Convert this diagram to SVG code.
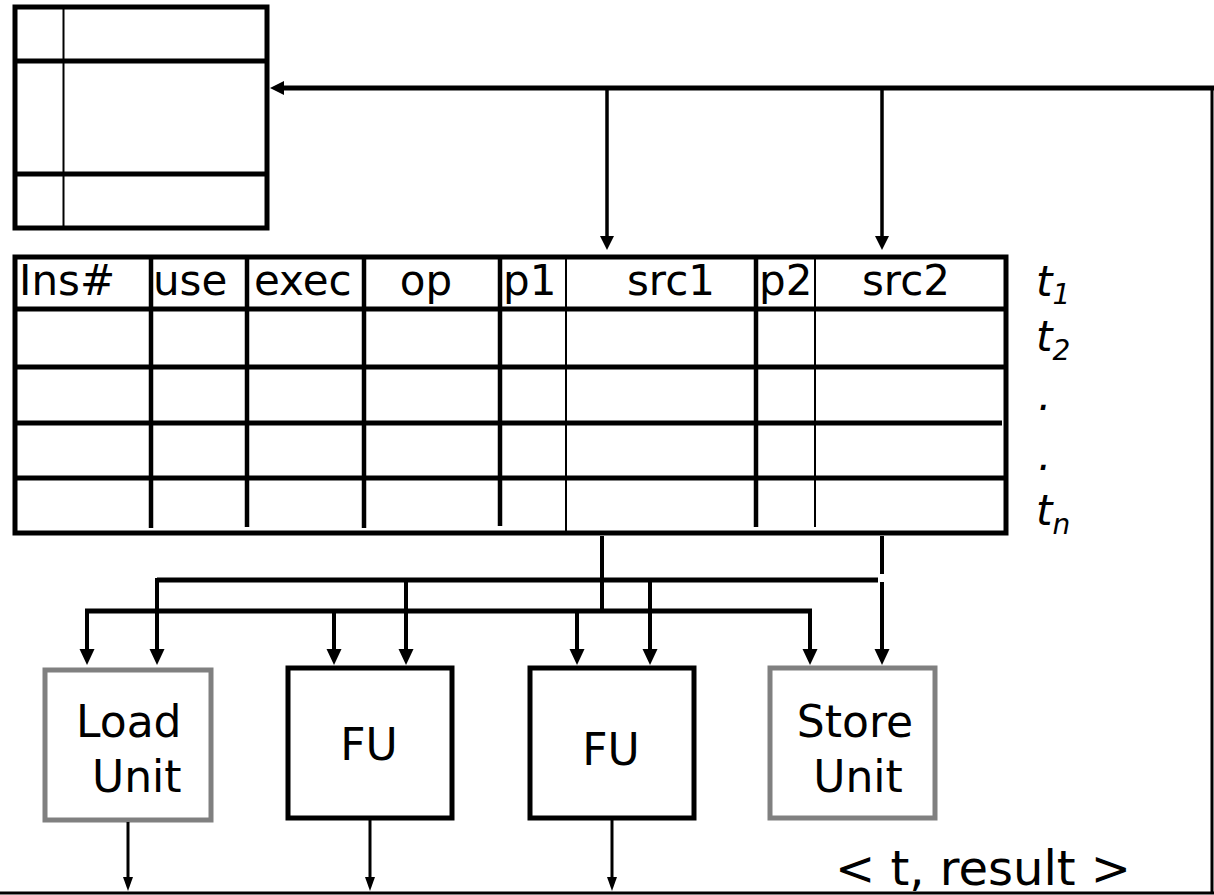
<svg xmlns="http://www.w3.org/2000/svg" width="1214" height="895" viewBox="0 0 1214 895">
<defs>
<style>
.ln{stroke:#000;fill:none}
.t{font-family:"DejaVu Sans","Liberation Sans",sans-serif;fill:#000}
.hd{font-size:42px}
.u{font-size:44px}
.it{font-family:"DejaVu Sans","Liberation Sans",sans-serif;font-style:italic;font-size:42px;fill:#000}
.sub{font-size:28px}
</style>
<marker id="aL" markerUnits="userSpaceOnUse" markerWidth="18" markerHeight="16" refX="2" refY="8" orient="auto">
<path d="M0,0.5 L16,8 L0,15.5 z" fill="#000"/>
</marker>
<marker id="aM" markerUnits="userSpaceOnUse" markerWidth="16" markerHeight="16" refX="2" refY="7" orient="auto">
<path d="M0,0 L14,7 L0,14 z" fill="#000"/>
</marker>
<marker id="aS" markerUnits="userSpaceOnUse" markerWidth="16" markerHeight="12" refX="2" refY="5" orient="auto">
<path d="M0,0 L14,5 L0,10 z" fill="#000"/>
</marker>
</defs>
<rect width="1214" height="895" fill="#fff"/>

<g id="regfile">
<rect x="15" y="7" width="252" height="221" fill="#fff" stroke="#000" stroke-width="5"/>
<line class="ln" x1="63.5" y1="7" x2="63.5" y2="228" stroke-width="2"/>
<line class="ln" x1="17" y1="61" x2="265" y2="61" stroke-width="5"/>
<line class="ln" x1="17" y1="174" x2="265" y2="174" stroke-width="5"/>
</g>

<g id="station">
<rect x="15" y="257" width="991" height="276" fill="#fff" stroke="#000" stroke-width="5"/>
<g class="ln" stroke-width="5">
<line x1="15" y1="309" x2="1004" y2="309"/>
<line x1="15" y1="367" x2="1004" y2="367"/>
<line x1="15" y1="423" x2="1002" y2="423"/>
<line x1="15" y1="478" x2="1004" y2="478"/>
</g>
<g class="ln" stroke-width="4.5">
<line x1="151" y1="257" x2="151" y2="528"/>
<line x1="247" y1="257" x2="247" y2="527"/>
<line x1="364" y1="257" x2="364" y2="528"/>
<line x1="500" y1="257" x2="500" y2="526"/>
<line x1="756" y1="257" x2="756" y2="527"/>
</g>
<g class="ln" stroke-width="2">
<line x1="566" y1="257" x2="566" y2="531"/>
<line x1="815" y1="257" x2="815" y2="527"/>
</g>
<g class="t hd">
<text x="19" y="295">Ins#</text>
<text x="153" y="295">use</text>
<text x="254" y="295">exec</text>
<text x="426" y="295" text-anchor="middle">op</text>
<text x="503" y="295">p1</text>
<text x="671" y="295" text-anchor="middle">src1</text>
<text x="759" y="295">p2</text>
<text x="906" y="295" text-anchor="middle">src2</text>
</g>
</g>

<g id="tags">
<text class="it" x="1036" y="296">t<tspan class="sub" dy="8">1</tspan></text>
<text class="it" x="1036" y="351">t<tspan class="sub" dy="9">2</tspan></text>
<text class="it" x="1038" y="410">.</text>
<text class="it" x="1038" y="470">.</text>
<text class="it" x="1036" y="525">t<tspan class="sub" dy="9">n</tspan></text>
</g>

<g id="load-unit">
<rect x="45" y="670" width="166" height="150" fill="#fff" stroke="#808080" stroke-width="5"/>
<text class="t u" x="76" y="737">Load</text>
<text class="t u" x="92" y="792">Unit</text>
</g>
<g id="fu1">
<rect x="288" y="668" width="164" height="150" fill="#fff" stroke="#000" stroke-width="5"/>
<text class="t u" x="369" y="760" text-anchor="middle">FU</text>
</g>
<g id="fu2">
<rect x="530" y="668" width="164" height="150" fill="#fff" stroke="#000" stroke-width="5"/>
<text class="t u" x="611" y="765" text-anchor="middle">FU</text>
</g>
<g id="store-unit">
<rect x="770" y="668" width="165" height="150" fill="#fff" stroke="#808080" stroke-width="5"/>
<text class="t u" x="855" y="737" text-anchor="middle">Store</text>
<text class="t u" x="858" y="792" text-anchor="middle">Unit</text>
</g>

<g id="result-label">
<text class="t" x="835" y="885" font-size="48">&lt; t, result &gt;</text>
</g>

<g id="connectors">
<line class="ln" x1="0" y1="893" x2="1214" y2="893" stroke-width="3"/>
<line class="ln" x1="1212" y1="893" x2="1212" y2="88" stroke-width="3"/>
<line class="ln" x1="1214" y1="88" x2="282" y2="88" stroke-width="5" marker-end="url(#aM)"/>
<line class="ln" x1="607" y1="88" x2="607" y2="238" stroke-width="3.5" marker-end="url(#aM)"/>
<line class="ln" x1="882" y1="88" x2="882" y2="238" stroke-width="3.5" marker-end="url(#aM)"/>
<line class="ln" x1="602" y1="536" x2="602" y2="611" stroke-width="4"/>
<line class="ln" x1="882" y1="536" x2="882" y2="574" stroke-width="4"/>
<line class="ln" x1="157" y1="580" x2="878" y2="580" stroke-width="5"/>
<line class="ln" x1="85" y1="611" x2="812" y2="611" stroke-width="5"/>
<g class="ln" stroke-width="4">
<line x1="87" y1="611" x2="87" y2="651" marker-end="url(#aL)"/>
<line x1="157" y1="578" x2="157" y2="651" marker-end="url(#aL)"/>
<line x1="334" y1="611" x2="334" y2="651" marker-end="url(#aL)"/>
<line x1="406" y1="580" x2="406" y2="651" marker-end="url(#aL)"/>
<line x1="577" y1="611" x2="577" y2="651" marker-end="url(#aL)"/>
<line x1="650" y1="580" x2="650" y2="651" marker-end="url(#aL)"/>
<line x1="810" y1="611" x2="810" y2="651" marker-end="url(#aL)"/>
<line x1="882" y1="582" x2="882" y2="651" marker-end="url(#aL)"/>
</g>
<g class="ln" stroke-width="3">
<line x1="128" y1="822" x2="128" y2="879" marker-end="url(#aS)"/>
<line x1="370" y1="820" x2="370" y2="879" marker-end="url(#aS)"/>
<line x1="612" y1="820" x2="612" y2="879" marker-end="url(#aS)"/>
</g>
</g>
</svg>
